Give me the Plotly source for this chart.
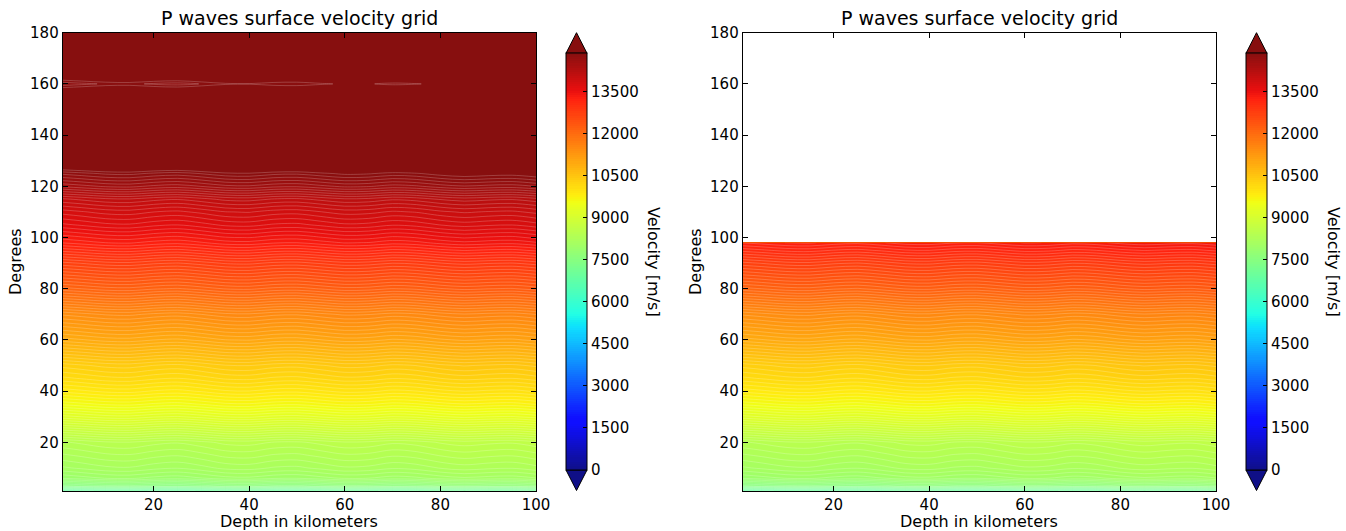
import plotly.graph_objects as go

# ---------------- data ----------------
degrees = [1, 3, 6, 10, 15, 20, 25, 30, 35, 40, 45, 50, 55, 60, 65, 70, 75, 80,
           85, 90, 95, 98, 100, 105, 110, 115, 120, 125, 130, 140, 150, 155,
           160, 165, 170, 180]
base_velocity = [6900, 7600, 8000, 8200, 8350, 8500, 8900, 9300, 9650, 9950,
                 10200, 10400, 10700, 11000, 11250, 11500, 11850, 12200, 12500,
                 12800, 13150, 13350, 13450, 13700, 13900, 14150, 14550, 14850,
                 15300, 15600, 15600, 15300, 14850, 15300, 15600, 15600]
depth_km = [1, 5, 10, 15, 20, 25, 30, 35, 40, 45, 50, 55, 60, 65, 70, 75, 80,
            85, 90, 95, 100]
depth_offset = [-110, -80, -40, -30, -70, -90, -50, 0, 10, -30, -40, 0, 40, 30,
                -10, 10, 60, 90, 70, 60, 100]
right_max_degree = 98
cbar_ticks = [0, 1500, 3000, 4500, 6000, 7500, 9000, 10500, 12000, 13500]
vmin, vmax = 0, 14870

grid_left = [[b + o for o in depth_offset] for b in base_velocity]
rows_right = [i for i, d in enumerate(degrees) if d <= right_max_degree]
deg_right = [degrees[i] for i in rows_right]
grid_right = [grid_left[i] for i in rows_right]

# ---------------- styling ----------------
W, H = 1346, 531
FONT = "DejaVu Sans"
ALPHA = 0.94


def px_x(px):
    return px / W


def px_y(py):
    return 1 - py / H


# matplotlib "jet" anchor points, blended with white (contourf alpha)
jet_r = [(0, 0), (0.35, 0), (0.66, 1), (0.89, 1), (1, 0.5)]
jet_g = [(0, 0), (0.125, 0), (0.375, 1), (0.64, 1), (0.91, 0), (1, 0)]
jet_b = [(0, 0.5), (0.11, 1), (0.34, 1), (0.65, 0), (1, 0)]


def interp(seg, f):
    for (x0, y0), (x1, y1) in zip(seg[:-1], seg[1:]):
        if x0 <= f <= x1:
            return y0 + (y1 - y0) * (f - x0) / (x1 - x0)
    return seg[-1][1]


stops = sorted(set([p[0] for p in jet_r + jet_g + jet_b]))
colorscale = []
for f in stops:
    rgb = [interp(s, f) for s in (jet_r, jet_g, jet_b)]
    c = [round(255 * (ALPHA * v + (1 - ALPHA))) for v in rgb]
    colorscale.append([f, f"rgb({c[0]},{c[1]},{c[2]})"])

top_col = colorscale[-1][1]
bot_col = colorscale[0][1]
nlev = 200
lev_size = (vmax - vmin) / nlev

fig = go.Figure()

panels = [
    dict(x=depth_km, y=degrees, z=grid_left, xa="x", ya="y",
         dom=(62.7, 536.0), cb=566.0, lab=654.0, ylab=15),
    dict(x=depth_km, y=deg_right, z=grid_right, xa="x2", ya="y2",
         dom=(742.7, 1216.0), cb=1246.0, lab=1334.0, ylab=695),
]

cb_top, cb_bot = 53.3, 470.0
cb_w = 21
plot_top, plot_bot = 32.7, 491.0

shapes = []
annotations = []
for i, p in enumerate(panels):
    fig.add_trace(go.Contour(
        x=p["x"], y=p["y"], z=p["z"], xaxis=p["xa"], yaxis=p["ya"],
        colorscale=colorscale, zmin=vmin, zmax=vmax, zauto=False,
        autocontour=False,
        contours=dict(start=vmin, end=vmax, size=lev_size, coloring="fill"),
        line=dict(width=0),
        showscale=True,
        colorbar=dict(
            x=px_x(p["cb"]), xanchor="left", xpad=0, ypad=0,
            y=px_y(cb_bot), yanchor="bottom", len=(cb_bot - cb_top) / H,
            lenmode="fraction", thickness=cb_w, thicknessmode="pixels",
            outlinecolor="black", outlinewidth=1,
            tickmode="array", tickvals=cbar_ticks,
            ticktext=[str(t) for t in cbar_ticks],
            ticks="inside", ticklen=4, tickcolor="black",
            tickfont=dict(family=FONT, size=15, color="black"),
        ),
        hoverinfo="skip",
    ))
    # faint white contour edges like matplotlib's antialiased contourf seams
    fig.add_trace(go.Contour(
        x=p["x"], y=p["y"], z=p["z"], xaxis=p["xa"], yaxis=p["ya"],
        autocontour=False,
        contours=dict(start=vmin, end=vmax, size=lev_size, coloring="none"),
        line=dict(width=0.6, color="rgba(255,255,255,0.35)"),
        showscale=False, hoverinfo="skip",
    ))
    # extend triangles on the colorbar
    x0, x1 = px_x(p["cb"]), px_x(p["cb"] + cb_w)
    xm = px_x(p["cb"] + cb_w / 2)
    shapes.append(dict(type="path", xref="paper", yref="paper",
                       path=f"M {x0} {px_y(cb_top)} L {xm} {px_y(plot_top)} L {x1} {px_y(cb_top)} Z",
                       fillcolor=top_col, line=dict(color="black", width=1)))
    shapes.append(dict(type="path", xref="paper", yref="paper",
                       path=f"M {x0} {px_y(cb_bot)} L {xm} {px_y(plot_bot - 0.5)} L {x1} {px_y(cb_bot)} Z",
                       fillcolor=bot_col, line=dict(color="black", width=1)))
    cx = (p["dom"][0] + p["dom"][1]) / 2
    annotations += [
        dict(text="P waves surface velocity grid", x=px_x(cx), y=px_y(18),
             font=dict(family=FONT, size=19, color="black")),
        dict(text="Depth in kilometers", x=px_x(cx), y=px_y(521),
             font=dict(family=FONT, size=16, color="black")),
        dict(text="Degrees", x=px_x(p["ylab"]), y=px_y(262), textangle=-90,
             font=dict(family=FONT, size=16, color="black")),
        dict(text="Velocity [m/s]", x=px_x(p["lab"]), y=px_y(262),
             textangle=90, font=dict(family=FONT, size=16, color="black")),
    ]

for a in annotations:
    a.update(xref="paper", yref="paper", showarrow=False,
             xanchor="center", yanchor="middle")

axis_common = dict(showgrid=False, zeroline=False, showline=True,
                   linecolor="black", linewidth=1, mirror="ticks",
                   ticks="inside", ticklen=5, tickcolor="black",
                   tickfont=dict(family=FONT, size=15, color="black"))

layout_axes = {}
for i, p in enumerate(panels):
    sx = "" if i == 0 else str(i + 1)
    layout_axes[f"xaxis{sx}"] = dict(
        axis_common, domain=[px_x(p["dom"][0]), px_x(p["dom"][1])],
        range=[1, 100], tickvals=[20, 40, 60, 80, 100],
        anchor=f"y{sx}")
    layout_axes[f"yaxis{sx}"] = dict(
        axis_common, domain=[px_y(plot_bot), px_y(plot_top)],
        range=[1, 180], tickvals=[20, 40, 60, 80, 100, 120, 140, 160, 180],
        anchor=f"x{sx}")

fig.update_layout(
    width=W, height=H, margin=dict(l=0, r=0, t=0, b=0, autoexpand=False),
    paper_bgcolor="white", plot_bgcolor="white",
    showlegend=False, shapes=shapes, annotations=annotations,
    font=dict(family=FONT, color="black"),
    **layout_axes,
)

# remove the page's default 8px body margin so the figure fills the window
fig.write_html(
    "out.html",
    config={"displayModeBar": False},
    post_script="document.body.style.margin='0';"
                "document.body.style.overflow='hidden';",
)
